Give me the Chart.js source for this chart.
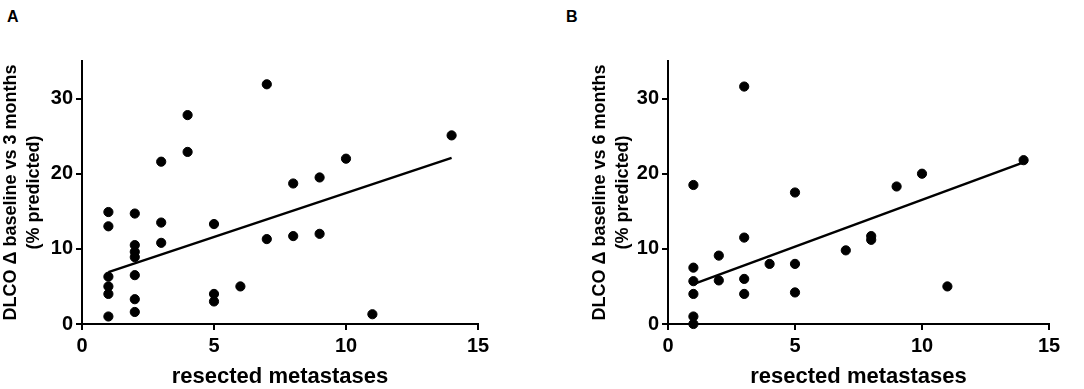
<!DOCTYPE html>
<html>
<head>
<meta charset="utf-8">
<script src="https://cdn.jsdelivr.net/npm/chart.js@4"></script>
<style>
  body { margin: 0; background: #fff; }
  .panel { position: absolute; top: 0; }
  .tag { position: absolute; top: 8px; font: bold 16px "Liberation Sans", Arial, sans-serif; color: #000; }
</style>
</head>
<body>
<div class="tag" style="left:7px">A</div>
<div class="tag" style="left:566px">B</div>
<canvas id="chartA" class="panel" style="left:0px" width="540" height="389"></canvas>
<canvas id="chartB" class="panel" style="left:540px" width="544" height="389"></canvas>
<script>
// panel A : baseline vs 3 months
let xA = [1, 1, 1, 1, 1, 1, 2, 2, 2, 2, 2, 2, 2, 3, 3, 3, 4, 4, 5, 5, 5, 6, 7, 7, 8, 8, 9, 9, 10, 11, 14];
let yA = [14.9, 13.0, 6.3, 5.0, 4.0, 1.0, 14.7, 10.5, 9.6, 8.9, 6.5, 3.3, 1.6, 21.6, 13.5, 10.8, 27.8, 22.9, 13.3, 4.0, 3.0, 5.0, 31.9, 11.3, 18.7, 11.7, 19.5, 12.0, 22.0, 1.3, 25.1];
let fitAx = [1, 14];
let fitAy = [6.9, 22.1];

// panel B : baseline vs 6 months
let xB = [1, 1, 1, 1, 1, 1, 2, 2, 3, 3, 3, 3, 4, 5, 5, 5, 7, 8, 8, 9, 10, 11, 14];
let yB = [18.5, 7.5, 5.7, 4.0, 1.0, 0.0, 9.1, 5.8, 31.6, 11.5, 6.0, 4.0, 8.0, 17.5, 8.0, 4.2, 9.8, 11.7, 11.2, 18.3, 20.0, 5.0, 21.8];
let fitBx = [1, 14];
let fitBy = [5.3, 21.5];

let xTicks = [0, 5, 10, 15];
let yTicks = [0, 10, 20, 30];
let xTitle = 'resected metastases';
let yTitleA = ['DLCO \u0394 baseline vs 3 months', '(% predicted)'];
let yTitleB = ['DLCO \u0394 baseline vs 6 months', '(% predicted)'];

Chart.defaults.font.family = '"Liberation Sans", Arial, sans-serif';
Chart.defaults.color = '#000';

function toPoints(xs, ys) {
    let pts = [];
    for (let i = 0; i < xs.length; i++) {
        pts.push({ x: xs[i], y: ys[i] });
    }
    return pts;
}

function makeChart(id, xs, ys, fx, fy, yTitle, yWidth, padLeft, padRight) {
    let ctx = document.getElementById(id).getContext('2d');
    return new Chart(ctx, {
        type: 'scatter',
        data: {
            datasets: [{
                data: toPoints(xs, ys),
                backgroundColor: '#000',
                borderColor: '#000',
                pointRadius: 4.6,
                pointHoverRadius: 4.6,
                clip: false
            }, {
                type: 'line',
                data: toPoints(fx, fy),
                borderColor: '#000',
                borderWidth: 2.5,
                pointRadius: 0,
                fill: false
            }]
        },
        options: {
            responsive: false,
            animation: false,
            layout: { padding: { top: 61, left: padLeft, right: padRight, bottom: 0 } },
            plugins: { legend: { display: false }, tooltip: { enabled: false } },
            scales: {
                x: {
                    type: 'linear',
                    min: 0, max: 15,
                    afterBuildTicks: s => { s.ticks = xTicks.map(v => ({ value: v })); },
                    afterFit: s => { s.height = 65; },
                    border: { display: true, color: '#000', width: 2 },
                    grid: { drawOnChartArea: false, drawTicks: true, tickLength: 6, color: '#000', lineWidth: 2 },
                    ticks: { padding: 4, font: { size: 20, weight: 'bold' }, maxRotation: 0 },
                    title: { display: true, text: xTitle, font: { size: 22, weight: 'bold' }, padding: { top: 0, bottom: -1 } }
                },
                y: {
                    type: 'linear',
                    min: 0, max: 35,
                    afterBuildTicks: s => { s.ticks = yTicks.map(v => ({ value: v })); },
                    afterFit: s => { s.width = yWidth; },
                    border: { display: true, color: '#000', width: 2 },
                    grid: { drawOnChartArea: false, drawTicks: true, tickLength: 6, color: '#000', lineWidth: 2 },
                    ticks: { padding: 3, font: { size: 20, weight: 'bold' } },
                    title: { display: true, text: yTitle, font: { size: 18, weight: 'bold', lineHeight: 1.25 }, padding: { top: 0, bottom: 0 } }
                }
            }
        }
    });
}

makeChart('chartA', xA, yA, fitAx, fitAy, yTitleA, 82, 0, 62);
makeChart('chartB', xB, yB, fitBx, fitBy, yTitleB, 79, 49, 35);
</script>
</body>
</html>
